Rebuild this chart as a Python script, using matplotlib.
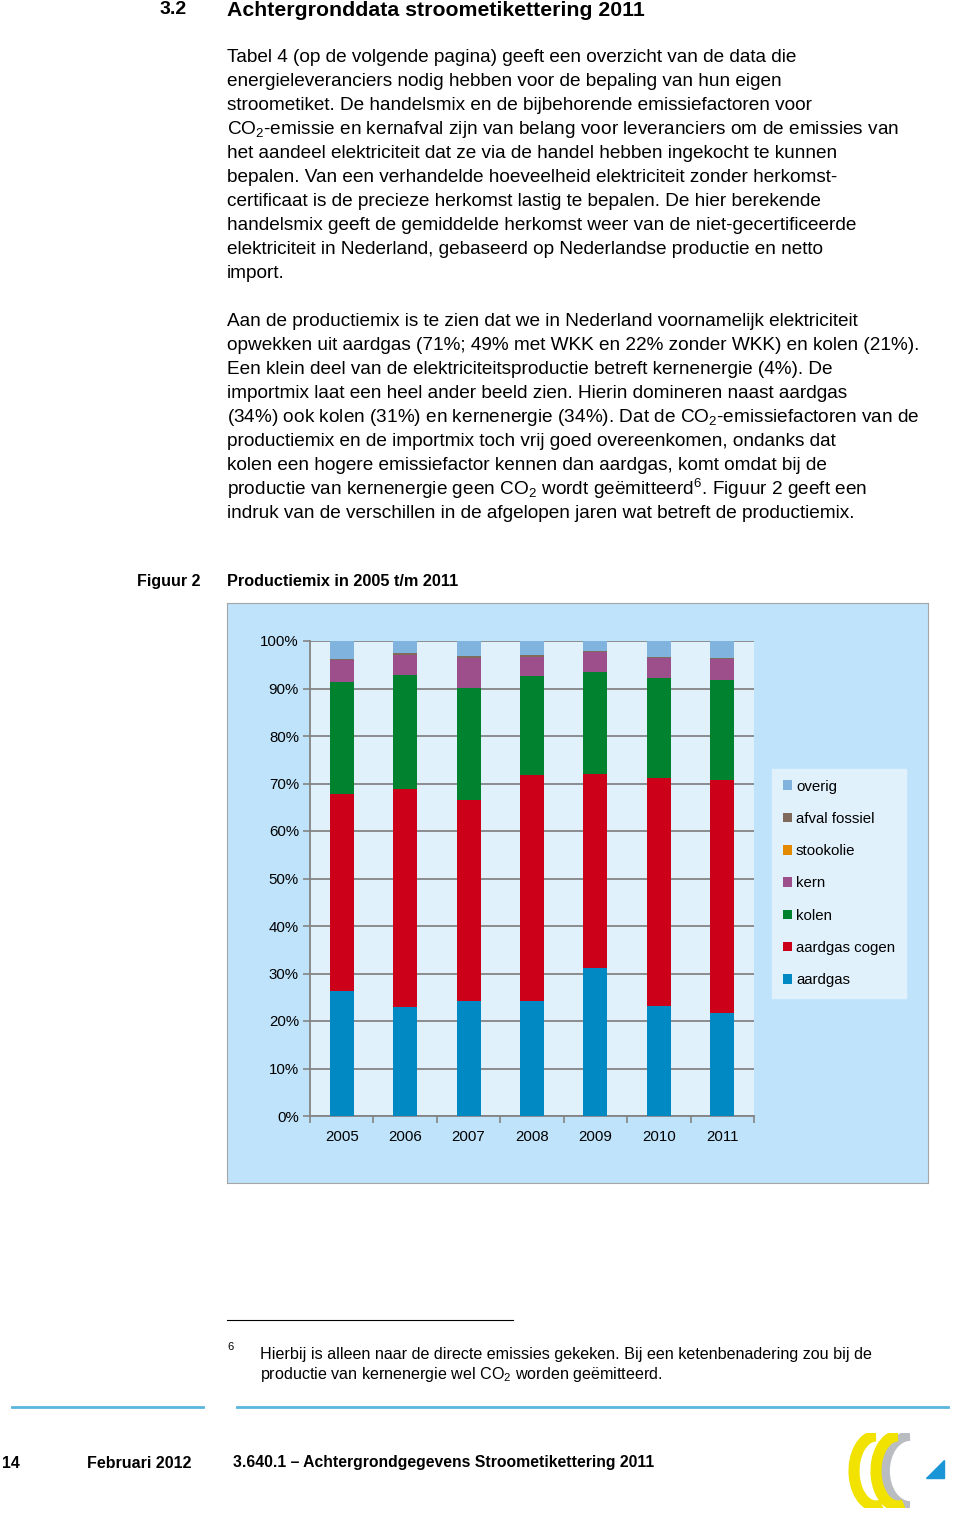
import matplotlib
matplotlib.use('Agg')
import matplotlib.pyplot as plt
import numpy as np
from matplotlib.patches import Arc, Polygon

plt.rcParams['font.family'] = ['Liberation Sans', 'DejaVu Sans']
plt.rcParams['mathtext.default'] = 'regular'

W, H = 960, 1515

# data (percent of production)
years = ['2005', '2006', '2007', '2008', '2009', '2010', '2011']
aardgas = [26.4, 22.9, 24.2, 24.2, 31.2, 23.2, 21.6]
aardgas_cogen = [41.3, 46.0, 42.4, 47.6, 40.7, 48.0, 49.2]
kolen = [23.7, 23.9, 23.6, 20.8, 21.6, 21.1, 21.0]
kern = [4.6, 4.3, 6.3, 4.1, 4.2, 4.2, 4.5]
stookolie = [0.0, 0.0, 0.0, 0.0, 0.0, 0.0, 0.0]
afval_fossiel = [0.2, 0.4, 0.3, 0.3, 0.2, 0.2, 0.2]
overig = [3.8, 2.5, 3.2, 3.0, 2.1, 3.3, 3.5]

series = [('aardgas', aardgas, '#0089c2'),
          ('aardgas cogen', aardgas_cogen, '#cc0019'),
          ('kolen', kolen, '#00822f'),
          ('kern', kern, '#9c4f8b'),
          ('stookolie', stookolie, '#e38a00'),
          ('afval fossiel', afval_fossiel, '#7f6a5c'),
          ('overig', overig, '#80b3de')]

y_ticks = [0, 10, 20, 30, 40, 50, 60, 70, 80, 90, 100]

para1 = ["Tabel 4 (op de volgende pagina) geeft een overzicht van de data die",
         "energieleveranciers nodig hebben voor de bepaling van hun eigen",
         "stroometiket. De handelsmix en de bijbehorende emissiefactoren voor",
         "CO$_2$-emissie en kernafval zijn van belang voor leveranciers om de emissies van",
         "het aandeel elektriciteit dat ze via de handel hebben ingekocht te kunnen",
         "bepalen. Van een verhandelde hoeveelheid elektriciteit zonder herkomst-",
         "certificaat is de precieze herkomst lastig te bepalen. De hier berekende",
         "handelsmix geeft de gemiddelde herkomst weer van de niet-gecertificeerde",
         "elektriciteit in Nederland, gebaseerd op Nederlandse productie en netto",
         "import."]
para2 = ["Aan de productiemix is te zien dat we in Nederland voornamelijk elektriciteit",
         "opwekken uit aardgas (71%; 49% met WKK en 22% zonder WKK) en kolen (21%).",
         "Een klein deel van de elektriciteitsproductie betreft kernenergie (4%). De",
         "importmix laat een heel ander beeld zien. Hierin domineren naast aardgas",
         "(34%) ook kolen (31%) en kernenergie (34%). Dat de CO$_2$-emissiefactoren van de",
         "productiemix en de importmix toch vrij goed overeenkomen, ondanks dat",
         "kolen een hogere emissiefactor kennen dan aardgas, komt omdat bij de",
         "productie van kernenergie geen CO$_2$ wordt geëmitteerd$^6$. Figuur 2 geeft een",
         "indruk van de verschillen in de afgelopen jaren wat betreft de productiemix."]


def fx(x):
    return x / W


def fy(y):
    return 1 - y / H


fig = plt.figure(figsize=(W / 100, H / 100), dpi=100)

# chart background panel (own axes, behind the plot)
bg = fig.add_axes([fx(227), fy(1183), (928 - 227) / W, (1183 - 603) / H], zorder=0)
bg.set_facecolor('#bee3fa')
bg.set_xticks([])
bg.set_yticks([])
for s in bg.spines.values():
    s.set_color('#a6a6a6')

# heading
fig.text(fx(160), fy(10), '3.2', fontsize=14, fontweight='bold', va='center')
fig.text(fx(227), fy(10), 'Achtergronddata stroometikettering 2011', fontsize=15.3,
         fontweight='bold', va='center')

body = 13.7
for i, line in enumerate(para1):
    fig.text(fx(227), fy(57 + 24 * i), line, fontsize=body, va='center')
for i, line in enumerate(para2):
    fig.text(fx(227), fy(321 + 24 * i), line, fontsize=body, va='center')

fig.text(fx(137), fy(581), 'Figuur 2', fontsize=11.5, fontweight='bold', va='center')
fig.text(fx(227), fy(581), 'Productiemix in 2005 t/m 2011', fontsize=11.7,
         fontweight='bold', va='center')

ax = fig.add_axes([fx(310), fy(1116), 444 / W, 475 / H], zorder=2)
ax.set_facecolor('#e1f1fc')
x = np.arange(len(years))
bottom = np.zeros(len(years))
handles = []
for name, vals, col in series:
    b = ax.bar(x, vals, 0.38, bottom=bottom, color=col, label=name, zorder=3)
    handles.append(b)
    bottom += np.array(vals)

ax.set_xlim(-0.5, len(years) - 0.5)
ax.set_ylim(0, 100)
ax.set_yticks(y_ticks)
ax.set_yticklabels([f'{v}%' for v in y_ticks], fontsize=10.8)
ax.yaxis.grid(True, color='#848484', linewidth=1.3, zorder=1)
ax.set_axisbelow(True)
ax.set_xticks(np.arange(-0.5, len(years), 1))
ax.set_xticklabels([])
ax.set_xticks(x, minor=True)
ax.set_xticklabels(years, minor=True, fontsize=10.8)
ax.tick_params(axis='x', which='major', length=5, color='#848484', width=1.2)
ax.tick_params(axis='x', which='minor', length=0, pad=10)
ax.tick_params(axis='y', length=5, color='#848484', width=1.2, pad=3)
for s in ['top', 'right']:
    ax.spines[s].set_visible(False)
for s in ['left', 'bottom']:
    ax.spines[s].set_color('#848484')
    ax.spines[s].set_linewidth(1.3)

leg = fig.legend(handles[::-1], [s[0] for s in series][::-1], loc='upper left',
                 bbox_to_anchor=(fx(772), fy(769)), fontsize=10.8,
                 handlelength=0.6, handleheight=0.6, handletextpad=0.3,
                 labelspacing=1.22, borderpad=0.7, frameon=True, fancybox=False,
                 borderaxespad=0)
leg.set_zorder(5)
leg.get_frame().set_facecolor('#e1f1fc')
leg.get_frame().set_edgecolor('#e1f1fc')
leg.get_frame().set_alpha(1)

# footnote
fig.add_artist(plt.Line2D([fx(227), fx(513)], [fy(1320), fy(1320)], color='black', lw=0.8))
fig.text(fx(227), fy(1347), '6', fontsize=8, va='center')
fig.text(fx(260), fy(1354), 'Hierbij is alleen naar de directe emissies gekeken. Bij een ketenbenadering zou bij de',
         fontsize=11.6, va='center')
fig.text(fx(260), fy(1374), 'productie van kernenergie wel CO$_2$ worden geëmitteerd.',
         fontsize=11.6, va='center')

# footer
fig.add_artist(plt.Line2D([fx(12), fx(203)], [fy(1407), fy(1407)], color='#5bb6dd', lw=2))
fig.add_artist(plt.Line2D([fx(237), fx(948)], [fy(1407), fy(1407)], color='#5bb6dd', lw=2))
fig.text(fx(2), fy(1463), '14', fontsize=11.3, fontweight='bold', va='center')
fig.text(fx(87), fy(1463), 'Februari 2012', fontsize=11.5, fontweight='bold', va='center')
fig.text(fx(233), fy(1463), '3.640.1 \u2013 Achtergrondgegevens Stroometikettering 2011',
         fontsize=11.3, fontweight='bold', va='center')

# logo
lg = fig.add_axes([fx(848), fy(1508), 100 / W, 75 / H])
lg.set_xlim(0, 100)
lg.set_ylim(0, 75)
lg.axis('off')
lg.add_patch(Arc((62, 37), 50, 70, theta1=90, theta2=270, color='#b9bcc0', lw=7))
lg.add_patch(Arc((50, 37), 44, 70, theta1=90, theta2=280, color='#f2e200', lw=8))
lg.add_patch(Arc((28, 37), 44, 70, theta1=90, theta2=280, color='#f2e200', lw=8))
lg.add_patch(Polygon([[78, 30], [96, 30], [96, 48]], closed=True, color='#1a95d6'))

fig.savefig('out.png', dpi=100)
